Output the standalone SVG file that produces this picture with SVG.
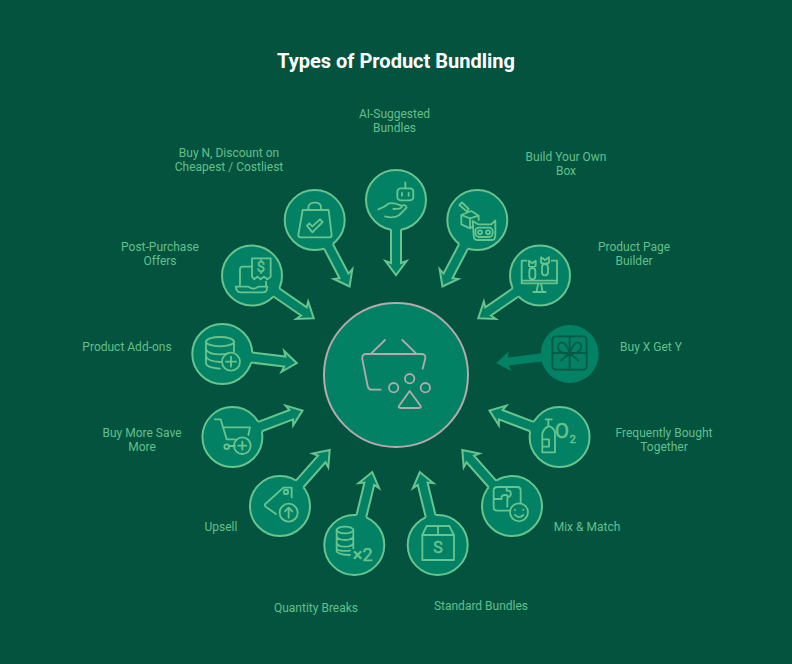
<svg xmlns="http://www.w3.org/2000/svg" width="792" height="664" viewBox="0 0 792 664">
<style>
text{font-family:Roboto,"Liberation Sans",sans-serif}
.title{font-size:20px;font-weight:700;fill:#fff;text-anchor:middle}
.lb{font-size:12px;fill:#62c08a;text-anchor:middle}
.c{fill:#038165;stroke:#68c48c;stroke-width:2}
.ic{fill:none;stroke:#68c48c;stroke-width:5.500;stroke-linecap:round;stroke-linejoin:round}
.gt{fill:#68c48c;stroke:#68c48c;stroke-width:1.500;text-anchor:middle}
.af{fill:#038165}
.as{fill:none;stroke:#68c48c;stroke-width:2;stroke-linejoin:miter}
</style>
<defs>
<g id="arrow"><path class="af" d="M27,-5H63L61,-10.500L75,0L61,10.500L63,5H27Z"/><path class="as" d="M29.600,-5H63L61,-10.500L75,0L61,10.500L63,5H29.600"/></g>
<g id="arrowDark"><path class="af" d="M27,-4H62L60,-10L74,0L60,10L62,4H27Z"/></g>
</defs>
<rect width="792" height="664" fill="#03533f"/>
<text class="title" x="396" y="68">Types of Product Bundling</text>
<g id="node-center">
<circle cx="396" cy="375" r="72" fill="#038165" stroke="#b3abab" stroke-width="2"/>
<g transform="translate(320,300) scale(.3333)" class="ic" style="stroke:#b3abab">
<path d="M154,160L195,120M247,120L288,160M182,269H155Q145,269 143,258L127,178Q125,162 138,162H303Q318,162 316,175L308,206"/>
<circle cx="269" cy="236" r="14"/><circle cx="221" cy="263" r="14"/><circle cx="316" cy="263" r="14"/>
<path d="M269,273L302,318Q304,324 296,324H242Q234,324 237,318Z"/>
</g></g>
<g id="node-ai"><circle class="c" cx="396" cy="200" r="30"/>
<g transform="translate(360,165) scale(.3333)" class="ic"><rect x="112" y="70" width="48" height="36" rx="10"/><path d="M136,52V70M126,84V92M146,84V92M55,133Q75,126 85,116Q95,112 110,117L122,121Q130,127 118,131L100,132M75,154Q100,162 118,150L140,128Q138,118 126,122"/></g>
<text class="lb" x="394.500" y="118">AI-Suggested</text><text class="lb" x="394.500" y="132">Bundles</text></g>
<g id="node-build"><circle class="c" cx="477.300" cy="220.100" r="30"/>
<g transform="translate(442,185) scale(.3333)" class="ic"><path d="M52,60L60,52L80,72L75,80ZM58,90V118L84,130V100ZM58,90L88,78L110,92M84,100L110,92V105M84,130L92,125M92,108L95,150Q95,165 105,165H150Q160,165 160,150V106L148,118H108Z"/><rect x="100" y="128" width="52" height="28" rx="11"/><circle cx="114" cy="142" r="6"/><circle cx="138" cy="142" r="6"/></g>
<text class="lb" x="566" y="161">Build Your Own</text><text class="lb" x="566" y="175">Box</text></g>
<g id="node-page"><circle class="c" cx="540" cy="275.600" r="30"/>
<g transform="translate(505,240) scale(.3333)" class="ic"><path d="M65,62H50V130H156V62H140M50,122H156M100,130L95,152M108,130L112,152M85,156H122M72,62L82,70L92,62V78Q82,84 72,78ZM108,52L120,60L132,52V68Q120,74 108,68Z"/><rect x="73" y="84" width="18" height="34" rx="9"/><rect x="111" y="72" width="18" height="34" rx="9"/></g>
<text class="lb" x="634" y="251">Product Page</text><text class="lb" x="634" y="265">Builder</text></g>
<g id="node-buyx"><circle cx="569.700" cy="354" r="29" fill="#038165"/>
<g transform="translate(535,318) scale(.3333)" class="ic" style="stroke:#055a45"><rect x="52" y="55" width="103" height="100" rx="10"/><path d="M104,55V155M52,105H155M104,105C70,110 60,85 75,75C88,68 100,90 104,105C110,90 120,68 133,75C148,85 135,110 104,105M104,105L78,128M104,105L130,128"/></g>
<text class="lb" x="651" y="351">Buy X Get Y</text></g>
<g id="node-freq"><circle class="c" cx="559.600" cy="437.100" r="30"/>
<g transform="translate(400,380) scale(.3333)"><path class="ic" d="M437,118H455M445,118V138M427,160Q430,148 442,140H452Q465,148 465,160V217H427ZM427,178H447V200H427"/><text class="gt" x="486" y="175" font-size="62">O</text><text class="gt" x="518" y="188" font-size="32">2</text></g>
<text class="lb" x="664" y="437">Frequently Bought</text><text class="lb" x="664" y="451">Together</text></g>
<g id="node-mix"><circle class="c" cx="512" cy="506.100" r="30"/>
<g transform="translate(400,380) scale(.3333)" class="ic"><path d="M330,392H292Q281,392 281,381V332Q281,321 292,321H352Q362,321 362,332V370M281,357H305Q302,345 315,345Q328,345 322,357V380M320,321V332Q335,330 332,345Q330,352 322,352"/><circle cx="357" cy="397" r="27"/><path d="M345,405Q357,418 370,405M345,389V390M370,389V390"/></g>
<text class="lb" x="587" y="531">Mix &amp; Match</text></g>
<g id="node-standard"><circle class="c" cx="437.700" cy="544.900" r="30"/>
<g transform="translate(400,380) scale(.3333)"><path class="ic" d="M67,465L80,438H148L162,465V540H67ZM67,465H162M114,438V465"/><text class="gt" x="114" y="520" font-size="48">S</text></g>
<text class="lb" x="481" y="610">Standard Bundles</text></g>
<g id="node-qty"><circle class="c" cx="354.300" cy="544.900" r="30"/>
<g transform="translate(190,380) scale(.3333)"><g class="ic"><ellipse cx="465" cy="450" rx="25" ry="10"/><path d="M440,450V512Q440,523 480,525M490,450V505M440,470Q445,480 465,480Q485,480 490,470M440,490Q445,500 465,500Q485,500 490,490M440,508Q450,515 480,512"/></g><text class="gt" x="518" y="542" font-size="54">×2</text></g>
<text class="lb" x="316" y="612">Quantity Breaks</text></g>
<g id="node-upsell"><circle class="c" cx="280" cy="506.100" r="30"/>
<g transform="translate(190,380) scale(.3333)" class="ic"><path d="M258,402L227,380Q222,376 226,372L280,323H305V352"/><rect x="282" y="330" width="12" height="12" rx="3"/><circle cx="296" cy="398" r="27"/><path d="M296,413V383M285,394L296,383L307,394"/></g>
<text class="lb" x="221" y="531">Upsell</text></g>
<g id="node-more"><circle class="c" cx="232.400" cy="437.100" r="30"/>
<g transform="translate(190,380) scale(.3333)" class="ic"><path d="M75,118H92L110,178H135M98,142H180L175,165M117,198H135"/><circle cx="110" cy="200" r="7"/><circle cx="157" cy="197" r="25"/><path d="M157,185V209M145,197H169"/></g>
<text class="lb" x="142" y="437">Buy More Save</text><text class="lb" x="142" y="451">More</text></g>
<g id="node-addons"><circle class="c" cx="222.300" cy="354" r="30"/>
<g transform="translate(190,320) scale(.3333)" class="ic"><ellipse cx="90" cy="65" rx="42" ry="14"/><path d="M48,65V130Q48,143 90,146M132,65V95M48,88Q55,103 90,103Q105,103 115,100M48,110Q55,125 92,126"/><circle cx="123" cy="125" r="27"/><path d="M123,110V140M108,125H138"/></g>
<text class="lb" x="127" y="351">Product Add-ons</text></g>
<g id="node-post"><circle class="c" cx="252" cy="275.600" r="30"/>
<g transform="translate(190,160) scale(.3333)"><path class="ic" d="M186,350V295H242V350L232,358L222,350L212,358L202,350L193,358ZM185,320H158Q150,320 150,328V375M137,380H175Q190,392 205,380H232M228,365V378M137,380Q140,397 150,397H222Q230,397 232,380"/><text class="gt" x="213" y="335" font-size="44">$</text></g>
<text class="lb" x="160" y="251">Post-Purchase</text><text class="lb" x="160" y="265">Offers</text></g>
<g id="node-buyn"><circle class="c" cx="314.700" cy="220.100" r="30"/>
<g transform="translate(190,160) scale(.3333)" class="ic"><path d="M338,150H416L425,225Q425,232 418,232H332Q325,232 325,225ZM355,150V143Q356,128 375,128Q393,128 393,143V150M351,197L358,190L367,199L390,178L398,186L367,217Z"/></g>
<text class="lb" x="229" y="157">Buy N, Discount on</text><text class="lb" x="229" y="171">Cheapest / Costliest</text></g>
<g id="connectors">
<use href="#arrow" transform="translate(396,200) rotate(90)"/>
<use href="#arrow" transform="translate(477.300,220.100) rotate(117.700)"/>
<use href="#arrow" transform="translate(540,275.600) rotate(145.400)"/>
<use href="#arrowDark" transform="translate(569.700,354) rotate(173.100)"/>
<use href="#arrow" transform="translate(559.600,437.100) rotate(-159.200)"/>
<use href="#arrow" transform="translate(512,506.100) rotate(-131.500)"/>
<use href="#arrow" transform="translate(437.700,544.900) rotate(-103.800)"/>
<use href="#arrow" transform="translate(354.300,544.900) rotate(-76.200)"/>
<use href="#arrow" transform="translate(280,506.100) rotate(-48.500)"/>
<use href="#arrow" transform="translate(232.400,437.100) rotate(-20.800)"/>
<use href="#arrow" transform="translate(222.300,354) rotate(6.900)"/>
<use href="#arrow" transform="translate(252,275.600) rotate(34.600)"/>
<use href="#arrow" transform="translate(314.700,220.100) rotate(62.300)"/>
</g>
</svg>
